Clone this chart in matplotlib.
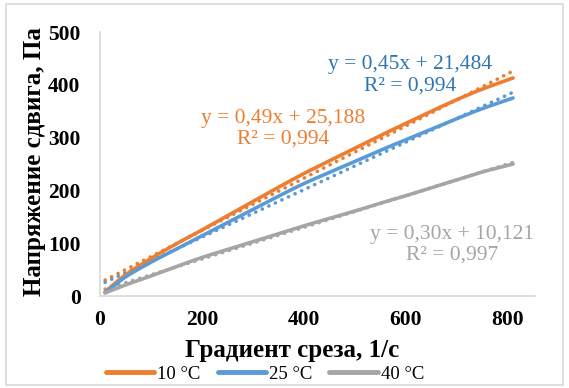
import numpy as np
import matplotlib
matplotlib.use("Agg")
import matplotlib.pyplot as plt
from matplotlib.patches import Rectangle

plt.rcParams['font.family'] = ['Liberation Serif', 'DejaVu Serif']

shear_rate = [10, 50, 100, 150, 200, 250, 300, 350, 400, 450, 500, 550, 600, 650, 700, 750, 810]
stress_10 = [8, 40, 71, 99, 125, 152, 179, 206, 232, 256, 280, 304, 327, 350, 372, 392, 413]
stress_25 = [6, 36, 64, 89, 114, 139, 164, 189, 213, 234, 255, 276, 296, 316, 336, 355, 375]
stress_40 = [6, 21, 38, 56, 73, 88, 103, 118, 133, 147, 161, 176, 190, 205, 220, 235, 250]
series_labels = ['10 °C', '25 °C', '40 °C']
colors = ['#ED7D31', '#5B9BD5', '#A5A5A5']
text_colors = ['#ED7D31', '#2E75B6', '#A5A5A5']
trend_slope = [0.495, 0.45, 0.30]
trend_intercept = [25.188, 21.484, 10.121]
eq_labels = ['y = 0,49x + 25,188\nR² = 0,994',
             'y = 0,45x + 21,484\nR² = 0,994',
             'y = 0,30x + 10,121\nR² = 0,997']
eq_pos = [(360, 316), (608, 418), (690, 97)]
x_ticks = [0, 200, 400, 600, 800]
y_ticks = [0, 100, 200, 300, 400, 500]


def catmull_rom(x, y, n=20):
    x = np.asarray(x, float); y = np.asarray(y, float)
    px = np.concatenate([[2 * x[0] - x[1]], x, [2 * x[-1] - x[-2]]])
    py = np.concatenate([[2 * y[0] - y[1]], y, [2 * y[-1] - y[-2]]])
    ox, oy = [], []
    for i in range(1, len(px) - 2):
        t = np.linspace(0, 1, n, endpoint=False)
        for arr, out in ((px, ox), (py, oy)):
            p0, p1, p2, p3 = arr[i - 1], arr[i], arr[i + 1], arr[i + 2]
            out.extend(0.5 * ((2 * p1) + (-p0 + p2) * t + (2 * p0 - 5 * p1 + 4 * p2 - p3) * t ** 2
                              + (-p0 + 3 * p1 - 3 * p2 + p3) * t ** 3))
    ox.append(x[-1]); oy.append(y[-1])
    return np.array(ox), np.array(oy)


W, H = 569, 388
fig = plt.figure(figsize=(W / 100, H / 100), dpi=100)
fig.patches.append(Rectangle((6 / W, 3 / H), 557 / W, 381 / H, transform=fig.transFigure,
                             fill=False, edgecolor='#D9D9D9', linewidth=1.2))
ax = fig.add_axes([100 / W, (H - 296) / H, 435 / W, 264 / H])

for ys, c, lab, m, b in zip([stress_10, stress_25, stress_40], colors, series_labels,
                            trend_slope, trend_intercept):
    sx, sy = catmull_rom(shear_rate, ys)
    ax.plot(sx, sy, color=c, lw=2.6, label=lab, solid_capstyle='round', zorder=3)
    tx = np.array([shear_rate[0], shear_rate[-1]], float)
    ax.plot(tx, m * tx + b, color=c, lw=2.6, linestyle=(0, (0.05, 1.95)),
            dash_capstyle='round', zorder=2)

for txt, (px, py), c in zip(eq_labels, eq_pos, text_colors):
    ax.text(px, py, txt, color=c, fontsize=15.5, ha='center', va='center',
            linespacing=1.12, zorder=4)

ax.set_xlim(0, 853)
ax.set_ylim(0, 500)
ax.set_xticks(x_ticks)
ax.set_yticks(y_ticks)
for s in ['top', 'right']:
    ax.spines[s].set_visible(False)
for s in ['left', 'bottom']:
    ax.spines[s].set_color('#D9D9D9')
    ax.spines[s].set_linewidth(1.2)
ax.tick_params(length=0, labelsize=15.5)
ax.tick_params(axis='y', pad=14)
ax.tick_params(axis='x', pad=10)
for lbl in ax.get_xticklabels() + ax.get_yticklabels():
    lbl.set_fontweight('bold')

fig.text(292 / W, 1 - 351 / H, 'Градиент среза, 1/с', fontsize=18, fontweight='bold',
         ha='center', va='center')
fig.text(35 / W, 1 - 162 / H, 'Напряжение сдвига, Па', fontsize=18, fontweight='bold',
         ha='center', va='center', rotation=90)

fig.legend(loc='center', bbox_to_anchor=(265 / W, 1 - 374 / H), ncol=3, frameon=False,
           fontsize=13.5, handlelength=2.6, handletextpad=0.15, columnspacing=0.9,
           borderpad=0, borderaxespad=0)
for line in fig.legends[0].get_lines():
    line.set_linewidth(3.5)

fig.savefig('out.png', dpi=100)
